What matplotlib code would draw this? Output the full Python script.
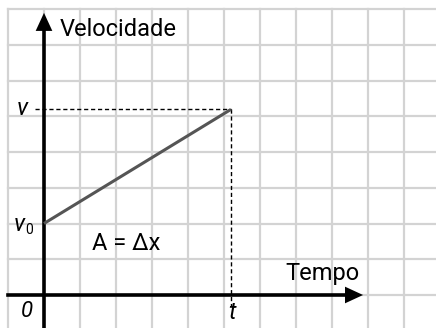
import matplotlib.pyplot as plt

plt.rcParams['font.family'] = ['Roboto', 'DejaVu Sans']

# data (grid units)
v0 = 2.0
v = 5.19
t = 5.19
t_values = [0, t]
v_values = [v0, v]

grid_x = list(range(-1, 11))
grid_y = list(range(0, 9))

fig = plt.figure(figsize=(4.36, 3.28), dpi=100)
ax = fig.add_axes([0, 0, 1, 1])
ax.set_xlim(-44 / 36, 392 / 36)
ax.set_ylim(-33 / 35.75, 295 / 35.75)
ax.axis('off')

gc = '#d3d3d3'
for gx in grid_x:
    ax.plot([gx, gx], [-2, 8], color=gc, lw=1.6, zorder=1)
for gy in grid_y:
    ax.plot([-1, 12], [gy, gy], color=gc, lw=1.6, zorder=1)

# axes with arrows
ax.plot([0, 0], [-2, 7.5], color='black', lw=2.6, zorder=3)
ax.plot([-1, 8.5], [0, 0], color='black', lw=2.6, zorder=3)
head = dict(arrowstyle='-|>,head_length=1.3,head_width=0.6', color='black', lw=0)
ax.annotate('', xy=(0, 7.97), xytext=(0, 7.2), arrowprops=head, zorder=4)
ax.annotate('', xy=(8.94, 0), xytext=(8.2, 0), arrowprops=head, zorder=4)

# velocity line
ax.plot(t_values, v_values, color='#555555', lw=2.2, zorder=3, solid_capstyle='butt')

# dashed guides
ax.plot([-0.25, t], [v, v], color='black', lw=1, ls=(0, (3, 2)), zorder=2)
ax.plot([t, t], [v, -0.3], color='black', lw=1, ls=(0, (3, 2)), zorder=2)

fs = 17
ax.text(0.44, 7.44, 'Velocidade', fontsize=fs, ha='left', va='center')
ax.text(7.74, 0.59, 'Tempo', fontsize=fs, ha='center', va='center')
ax.text(2.28, 1.43, 'A = Δx', fontsize=fs, ha='center', va='center')
ax.text(-0.6, 5.23, 'v', fontsize=fs, style='italic', ha='center', va='center')
ax.text(-0.7, 1.98, 'v', fontsize=fs, style='italic', ha='center', va='center')
ax.text(-0.42, 1.82, '0', fontsize=10, ha='center', va='center')
ax.text(-0.47, -0.45, '0', fontsize=16, style='italic', ha='center', va='center')
ax.text(5.22, -0.5, 't', fontsize=fs, style='italic', ha='center', va='center')

fig.savefig('out.png', dpi=100)
plt.close(fig)
